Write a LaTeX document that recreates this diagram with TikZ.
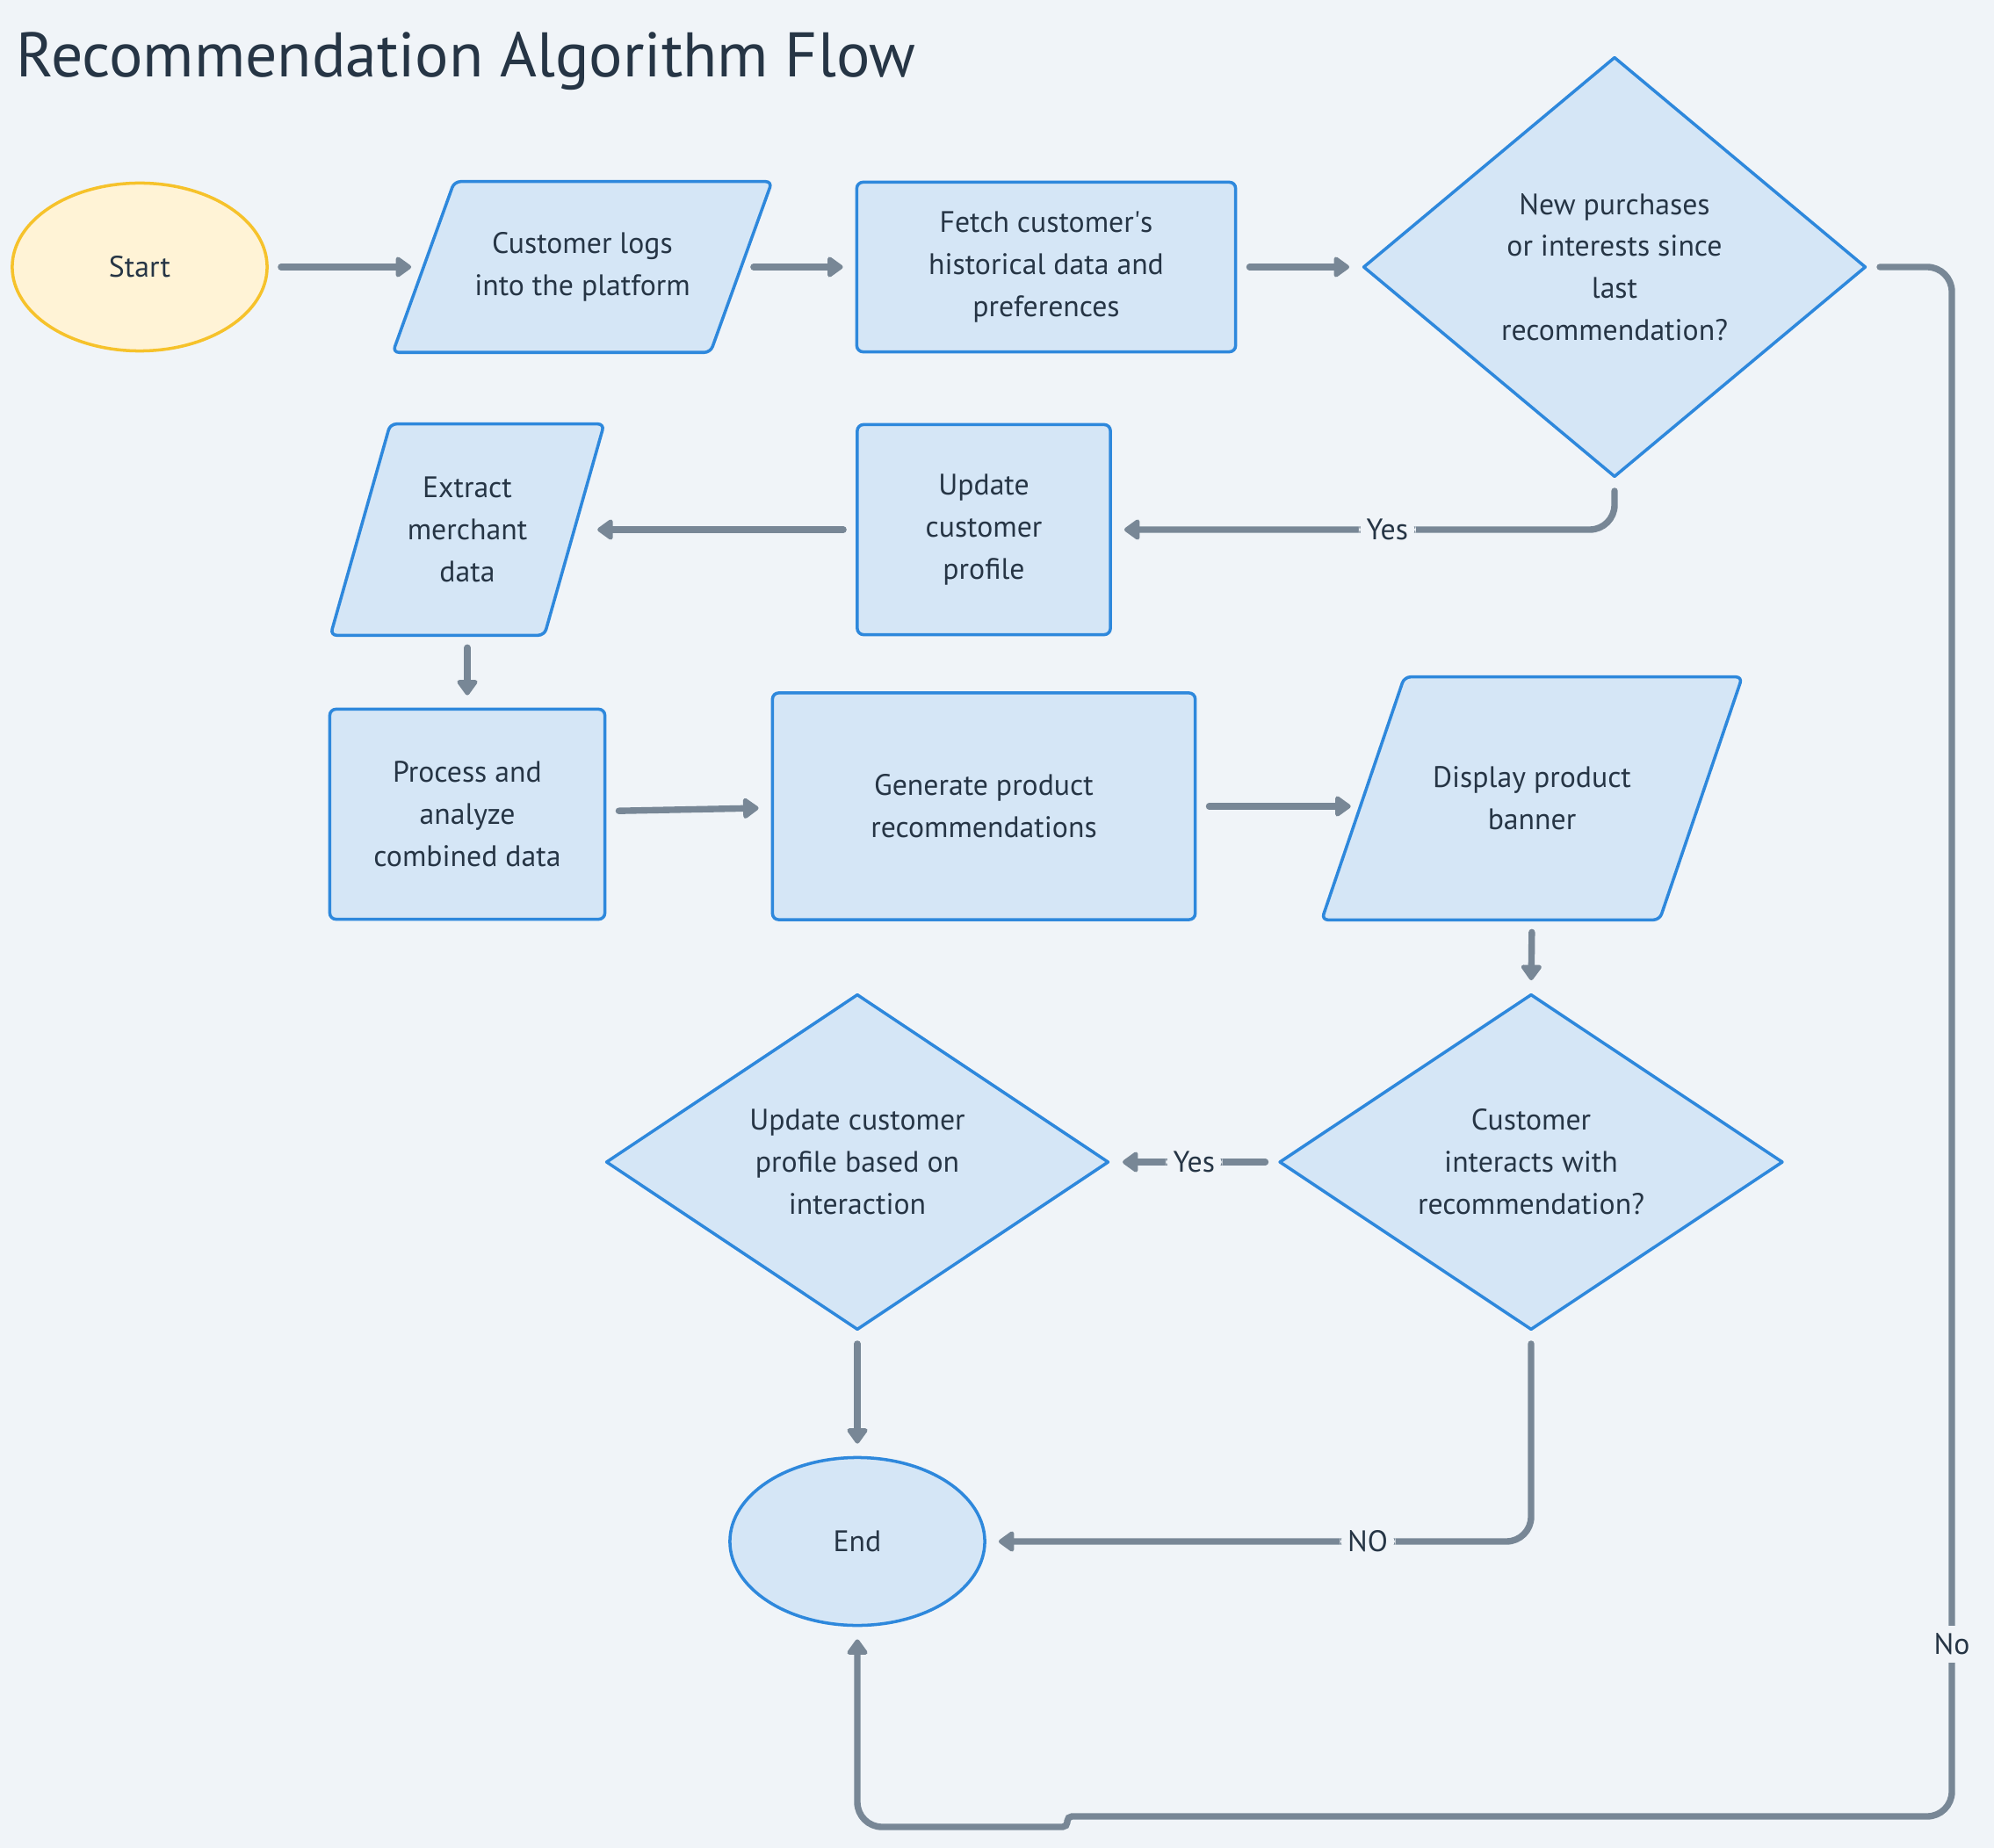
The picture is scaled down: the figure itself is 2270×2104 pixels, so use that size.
\documentclass[tikz,border=0pt]{standalone}
\usepackage{fontspec}
\setmainfont{PT Sans}
\usetikzlibrary{shapes.geometric,arrows.meta,backgrounds}
\definecolor{bg}{HTML}{F0F4F8}
\definecolor{nodefill}{HTML}{D5E6F6}
\definecolor{nodeblue}{HTML}{2E88DC}
\definecolor{linegray}{HTML}{788796}
\definecolor{txt}{HTML}{263545}
\definecolor{startfill}{HTML}{FFF3D6}
\definecolor{startdraw}{HTML}{F6C22B}
\newcommand{\nodefont}{\fontsize{9.6}{13.6}\selectfont}
\newcommand{\titlefont}{\fontsize{20.4}{24}\selectfont}
\tikzset{
  base/.style={draw=nodeblue, fill=nodefill, line width=1pt, line join=round, text=txt, align=center, font=\nodefont, inner sep=0pt},
  procbox/.style={base, rectangle, rounded corners=2pt},
  decbox/.style={base, diamond},
  ovalbox/.style={base, ellipse},
  iotext/.style={rectangle, draw=none, fill=none, text=txt, align=center, font=\nodefont, inner sep=0pt},
  iodraw/.style={draw=nodeblue, fill=nodefill, line width=1pt, line join=round, rounded corners=2pt},
  conn/.style={draw=linegray, line width=2.1pt, line cap=round, -{Triangle[length=5.5pt,width=7.5pt,round]}, shorten >=4pt, shorten <=4pt, rounded corners=8pt},
  lbl/.style={fill=bg, text=txt, font=\nodefont, inner sep=2.5pt}
}
\newcommand{\pgram}[2]{%
  \begin{scope}[on background layer]
    \draw[iodraw] ([xshift=#2]#1.north west) -- ([xshift=#2]#1.north east) -- ([xshift=-#2]#1.south east) -- ([xshift=-#2]#1.south west) -- cycle;
  \end{scope}}
\begin{document}
\begin{tikzpicture}[x=0.01cm,y=-0.01cm]
\begin{scope}[on background layer]
  \fill[bg] (0,0) rectangle (2270,2104);
\end{scope}
\useasboundingbox (0,0) rectangle (2270,2104);

\node[anchor=base west, text=txt, font=\titlefont, inner sep=0pt] (title) at (18,88) {Recommendation Algorithm Flow};

% row 1
\node[ovalbox, fill=startfill, draw=startdraw, minimum width=2.9cm, minimum height=1.91cm] (start) at (159,304) {Start};
\node[iotext, minimum width=3.6cm, minimum height=1.93cm] (login) at (663,304) {Customer logs\\into the platform};
\pgram{login}{0.35cm}
\node[procbox, minimum width=4.31cm, minimum height=1.93cm] (fetch) at (1191,304) {Fetch customer\textquotesingle s\\historical data and\\preferences};
\node[decbox, minimum width=5.72cm, minimum height=4.78cm] (newp) at (1838,304) {New purchases\\or interests since\\last\\recommendation?};

% row 2
\node[procbox, minimum width=2.88cm, minimum height=2.39cm] (upd) at (1120,603) {Update\\customer\\profile};
\node[iotext, minimum width=2.42cm, minimum height=2.39cm] (extract) at (532,603) {Extract\\merchant\\data};
\pgram{extract}{0.34cm}

% row 3
\node[procbox, minimum width=3.13cm, minimum height=2.39cm] (proc) at (532,927) {Process and\\analyze\\combined data};
\node[procbox, minimum width=4.81cm, minimum height=2.58cm] (gen) at (1120,918) {Generate product\\recommendations};
\node[iotext, minimum width=3.83cm, minimum height=2.75cm] (disp) at (1744,909) {Display product\\banner};
\pgram{disp}{0.47cm}

% row 4
\node[decbox, minimum width=5.73cm, minimum height=3.82cm] (inter) at (1743,1323) {Customer\\interacts with\\recommendation?};
\node[decbox, minimum width=5.72cm, minimum height=3.82cm] (updint) at (976,1323) {Update customer\\profile based on\\interaction};

% end
\node[ovalbox, minimum width=2.9cm, minimum height=1.91cm] (endn) at (976,1755) {End};

% connectors
\draw[conn] (start.east) -- (login.west);
\draw[conn] (login.east) -- (fetch.west);
\draw[conn] (fetch.east) -- (newp.west);
\draw[conn] (newp.south) |- node[lbl, pos=0.726] {Yes} (upd.east);
\draw[conn, shorten >=7.5pt] (upd.west) -- (extract.east);
\draw[conn] (extract.south) -- (proc.north);
\draw[conn] ([yshift=1pt]proc.east) -- ([yshift=-0.5pt]gen.west);
\draw[conn] (gen.east) -- (gen.east -| disp.west);
\draw[conn] (disp.south) -- (inter.north);
\draw[conn] (inter.west) -- node[lbl] {Yes} (updint.east);
\draw[conn] (updint.south) -- (endn.north);
\draw[conn] (inter.south) |- node[lbl, pos=0.65] {NO} (endn.east);
\draw[conn] (newp.east) -- (2222,304) -- (2222,2068) {[rounded corners=1.5pt] -- (1215,2068) -- (1215,2080)} -- (976,2080) -- (endn.south);
\node[lbl] (nolbl) at (2222,1872) {No};
\end{tikzpicture}
\end{document}
